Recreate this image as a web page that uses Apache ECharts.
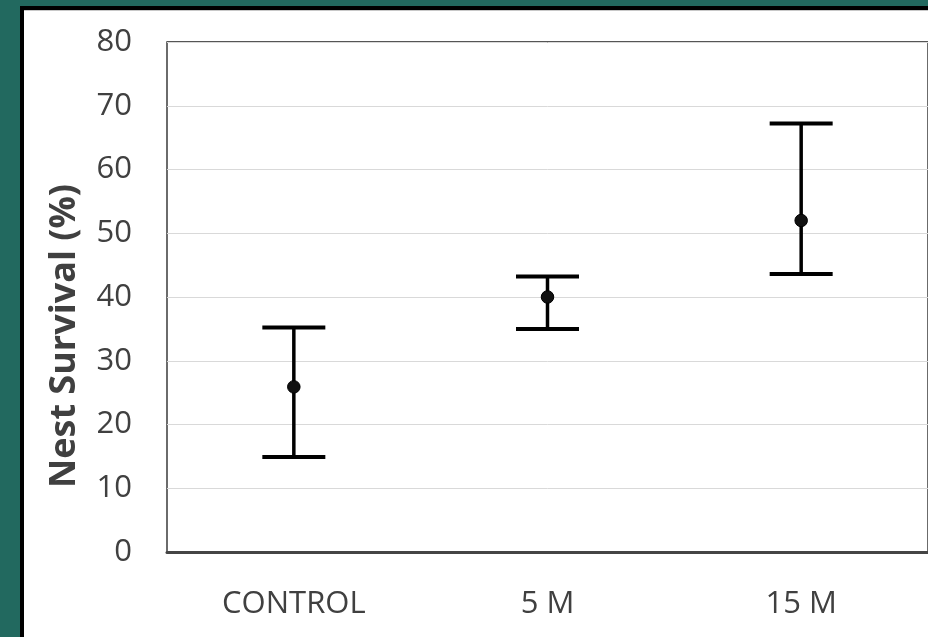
<!DOCTYPE html>
<html>
<head>
<meta charset="utf-8">
<script src="https://cdn.jsdelivr.net/npm/echarts@6/dist/echarts.min.js"></script>
<style>
html,body{margin:0;padding:0;background:#22695f;}
#chart{width:928px;height:637px;}
</style>
</head>
<body>
<div id="chart"></div>
<script>
const categories = ['CONTROL', '5 M', '15 M'];
const means = [25.9, 40.0, 52.0];
const lowers = [14.9, 35.0, 43.6];
const uppers = [35.2, 43.2, 67.2];
const yTicks = [0, 10, 20, 30, 40, 50, 60, 70, 80];

const chart = echarts.init(document.getElementById('chart'));
const font = '"Open Sans", Lato, sans-serif';

const errData = categories.map((c, i) => [i, lowers[i], uppers[i]]);

chart.setOption({
  backgroundColor: '#22695f',
  animation: false,
  graphic: [
    { type: 'rect', z: -10, shape: { x: 20, y: 6, width: 920, height: 640 }, style: { fill: '#000' }, silent: true },
    { type: 'rect', z: -9, shape: { x: 24, y: 10, width: 916, height: 640 }, style: { fill: '#fff' }, silent: true },
    { type: 'line', z: -8, shape: { x1: 24, y1: 10.5, x2: 928, y2: 10.5 }, style: { stroke: '#c8c8c8', lineWidth: 1 }, silent: true },
    { type: 'text', z: 10, x: 65, y: 336, rotation: Math.PI / 2,
      style: { text: 'Nest Survival (%)', fill: '#404040', font: 'bold 36px ' + font, align: 'center', verticalAlign: 'middle' } }
  ],
  grid: { left: 167, top: 42, width: 763.5, height: 510, show: true, borderColor: '#1e1e1e', borderWidth: 1.3, backgroundColor: 'transparent' },
  xAxis: {
    type: 'category',
    data: categories,
    axisTick: { show: false },
    axisLine: { show: true, lineStyle: { color: '#454545', width: 3 } },
    axisLabel: { color: '#404040', fontSize: 31, fontFamily: font, margin: 37 },
    splitLine: { show: false }
  },
  yAxis: {
    type: 'value',
    min: yTicks[0],
    max: yTicks[yTicks.length - 1],
    interval: 10,
    axisLine: { show: false },
    axisTick: { show: false },
    axisLabel: { color: '#404040', fontSize: 31, fontFamily: font, margin: 35 },
    splitLine: { show: true, lineStyle: { color: '#d9d9d9', width: 1 } }
  },
  series: [
    {
      type: 'custom',
      data: errData,
      z: 5,
      renderItem: function (params, api) {
        const x = api.value(0);
        const lo = api.coord([x, api.value(1)]);
        const hi = api.coord([x, api.value(2)]);
        const half = 31.5;
        const st = { stroke: '#000', lineWidth: 4 };
        return {
          type: 'group',
          children: [
            { type: 'line', shape: { x1: hi[0], y1: hi[1], x2: lo[0], y2: lo[1] }, style: { stroke: '#000', lineWidth: 3.5 } },
            { type: 'line', shape: { x1: hi[0] - half, y1: hi[1], x2: hi[0] + half, y2: hi[1] }, style: st },
            { type: 'line', shape: { x1: lo[0] - half, y1: lo[1], x2: lo[0] + half, y2: lo[1] }, style: st }
          ]
        };
      }
    },
    {
      type: 'scatter',
      data: means,
      z: 6,
      symbol: 'circle',
      symbolSize: 12.5,
      itemStyle: { color: '#111', borderColor: '#000', borderWidth: 1, opacity: 1 }
    }
  ]
});
</script>
</body>
</html>
